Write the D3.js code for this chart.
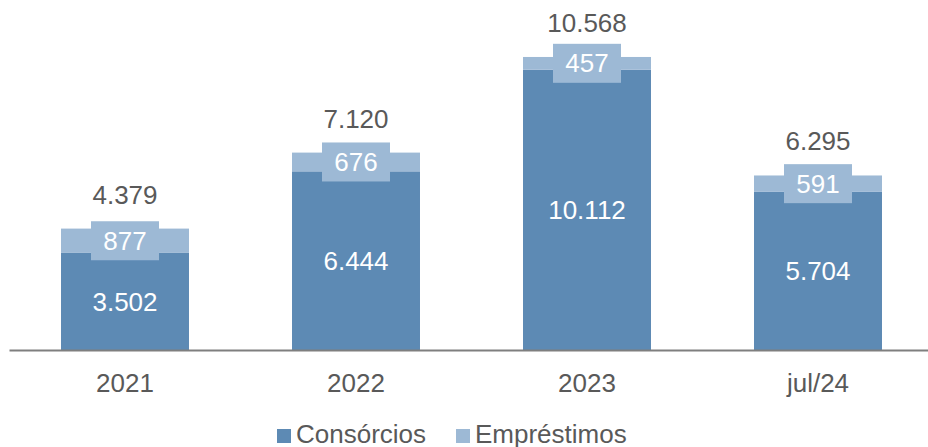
<!DOCTYPE html>
<html><head><meta charset="utf-8">
<script src="https://cdn.jsdelivr.net/npm/d3@7"></script>
<style>body{margin:0;background:#fff}svg{display:block;font-family:"Liberation Sans",Arial,sans-serif}</style>
</head><body><svg id="c" width="928" height="447"></svg>
<script>
const categories = ["2021", "2022", "2023", "jul/24"];
const consorcios = [3502, 6444, 10112, 5704];
const emprestimos = [877, 676, 457, 591];
const totals = [4379, 7120, 10568, 6295];
const seriesNames = ["Consórcios", "Empréstimos"];
const colors = ["#5D8AB4", "#9DB9D5"];

const loc = d3.formatLocale({decimal: ",", thousands: ".", grouping: [3], currency: ["", ""]});
const fmt = loc.format(",d");
const FS = 26;

const svg = d3.select("#c");
const rows = categories.map((c, i) => ({cat: c, Consórcios: consorcios[i], Empréstimos: emprestimos[i], total: totals[i]}));
const stack = d3.stack().keys(seriesNames)(rows);

const x = d3.scaleBand().domain(categories).range([9.5, 933.5]).paddingInner(0.446).paddingOuter(0.223);
const y = d3.scaleLinear().domain([0, 10568]).range([350, 57]);

const g = svg.append("g");
stack.forEach((s, si) => {
  g.selectAll(null).data(s).enter().append("rect")
    .attr("x", d => x(d.data.cat))
    .attr("width", x.bandwidth())
    .attr("y", d => y(d[1]))
    .attr("height", d => y(d[0]) - y(d[1]))
    .attr("fill", colors[si]);
});

// axis
const axis = svg.append("g").attr("transform", "translate(0,350)")
  .call(d3.axisBottom(x).tickSize(0).tickPadding(0));
axis.select(".domain").remove();
svg.append("line").attr("x1", 9.5).attr("x2", 928).attr("y1", 350.5).attr("y2", 350.5)
  .attr("stroke", "#7f7f7f").attr("stroke-width", 2);
axis.selectAll(".tick text").attr("dy", null).attr("y", 42)
  .attr("font-size", FS).attr("fill", "#595959").attr("font-family", "Liberation Sans, Arial, sans-serif");

// dark segment labels
g.selectAll(null).data(stack[0]).enter().append("text")
  .attr("x", d => x(d.data.cat) + x.bandwidth() / 2)
  .attr("y", d => (y(d[0]) + y(d[1])) / 2)
  .attr("dy", "0.35em").attr("text-anchor", "middle")
  .attr("font-size", FS).attr("fill", "#fff")
  .text(d => fmt(d[1] - d[0]));

// light segment labels with boxes
const lab = g.selectAll(null).data(stack[1]).enter().append("g")
  .attr("transform", d => `translate(${x(d.data.cat) + x.bandwidth() / 2},${(y(d[0]) + y(d[1])) / 2})`);
lab.append("rect").attr("x", -34).attr("y", -19.5).attr("width", 68).attr("height", 39).attr("fill", colors[1]);
lab.append("text").attr("text-anchor", "middle").attr("dy", "0.35em")
  .attr("font-size", FS).attr("fill", "#fff").text(d => fmt(d[1] - d[0]));

// totals
g.selectAll(null).data(rows).enter().append("text")
  .attr("x", d => x(d.cat) + x.bandwidth() / 2)
  .attr("y", (d, i) => y(stack[1][i][1]) - 25)
  .attr("text-anchor", "middle").attr("font-size", FS).attr("fill", "#595959")
  .text(d => fmt(d.total));

// legend
const legX = [277, 456];
const leg = svg.append("g");
seriesNames.forEach((n, i) => {
  leg.append("rect").attr("x", legX[i]).attr("y", 429).attr("width", 14).attr("height", 14).attr("fill", colors[i]);
  leg.append("text").attr("x", legX[i] + 19).attr("y", 443).attr("font-size", FS).attr("fill", "#595959").text(n);
});
</script></body></html>
